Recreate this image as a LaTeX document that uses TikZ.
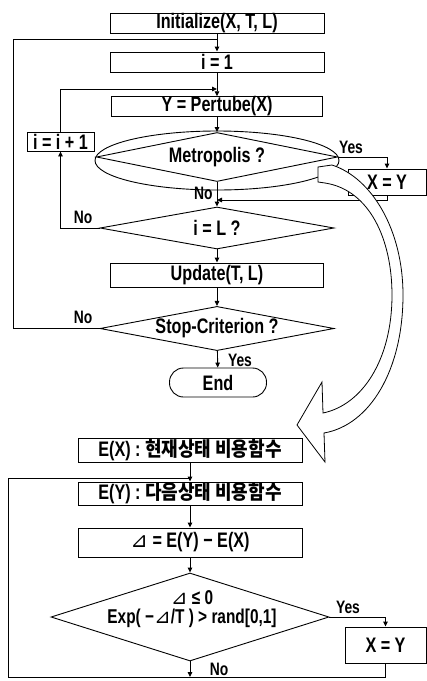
\documentclass[tikz,border=0pt]{standalone}
\usepackage{fontspec}
\setmainfont{Liberation Sans}[FakeStretch=0.77]
\newfontfamily\kr{Noto Sans CJK KR}[FakeStretch=0.9]
\newfontfamily\trifont{DejaVu Sans}
\usetikzlibrary{shapes.geometric,arrows.meta,calc}
\newcommand{\tri}{{\trifont\itshape\mdseries ⊿}}
\tikzset{
  box/.style={draw, rectangle, inner sep=0pt, font=\fontsize{21}{23}\selectfont\bfseries},
  dia/.style={draw, diamond, aspect=5, inner sep=0pt, font=\fontsize{21}{23}\selectfont\bfseries},
  lbl/.style={inner sep=0pt, font=\fontsize{18}{20}\selectfont\bfseries},
  arr/.style={-{Triangle[length=5pt,width=4.5pt]}},
}
\begin{document}
\begin{tikzpicture}[x=1pt,y=-1pt,line width=0.9pt]
\useasboundingbox (0,0) rectangle (427,681);
% upper flowchart
\node[box, minimum width=214pt, minimum height=20pt] (init) at (217,23) {Initialize(X, T, L)};
\node[box, minimum width=214pt, minimum height=20pt] (i1) at (217,62) {i = 1};
\node[box, minimum width=211pt, minimum height=19pt] (pert) at (217,106.5) {Y = Pertube(X)};
\node[draw, ellipse, minimum width=244pt, minimum height=59pt, inner sep=0pt] (ell) at (217,160.5) {};
\node[dia, minimum width=241pt, minimum height=49pt] (metro) at (217,157) {Metropolis ?};
\node[box, minimum width=67pt, minimum height=19pt] (inc) at (60.5,141.5) {i = i + 1};
\node[box, minimum width=78pt, minimum height=26pt] (xy1) at (387,182) {X = Y};
\node[dia, minimum width=234pt, minimum height=42pt] (iL) at (217,228) {i = L ?};
\node[box, minimum width=213pt, minimum height=24pt] (upd) at (217,275) {Update(T, L)};
\node[dia, minimum width=234pt, minimum height=43pt] (stop) at (217,328.5) {Stop-Criterion ?};
\node[box, rounded corners=14pt, minimum width=97pt, minimum height=29pt] (end) at (218,382.5) {End};

\coordinate (lt) at (13,39);
\coordinate (m1) at (217,89);
\coordinate (j2) at (217,200);
\draw[arr] (init) -- (i1);
\draw (stop.west) -| (lt) -- (lt -| init.south);
\draw[arr] (i1) -- (pert);
\draw[arr] (inc.north) |- (m1);
\draw[arr] (pert) -- (metro);
\draw[arr] (metro.south) -- (iL.north);
\node[lbl, anchor=east] (noA) at (213,193) {No};
\draw[arr] (metro.east) -| (xy1.north);
\node[lbl] (yesA) at (351,147) {Yes};
\draw[arr] (xy1.south) |- (j2);
\draw[arr] (iL.west) -| (inc.south);
\node[lbl] (noB) at (83,217) {No};
\draw[arr] (iL) -- (upd);
\draw[arr] (upd) -- (stop);
\draw[arr] (stop) -- (end);
\node[lbl] (noC) at (83,317) {No};
\node[lbl] (yesB) at (240,360) {Yes};

% lower flowchart
\node[box, minimum width=224pt, minimum height=24pt] (ex) at (190,450) {E(X) : {\kr\fontsize{20}{22}\selectfont 현재상태 비용함수}};
\node[box, minimum width=224pt, minimum height=23pt] (ey) at (190,493.5) {E(Y) : {\kr\fontsize{20}{22}\selectfont 다음상태 비용함수}};
\node[box, minimum width=224pt, minimum height=29pt] (dl) at (190,542.5) {\tri{} = E(Y) − E(X)};
\node[draw, diamond, inner sep=0pt, minimum width=278pt, minimum height=88pt] (dec) at (190,617) {};
\node[align=center, inner sep=0pt, font=\fontsize{20}{19}\selectfont\bfseries] (dectxt) at (192,609.5) {\tri{} ≤ 0\\Exp( −\tri/T ) > rand[0,1]};
\node[box, minimum width=81pt, minimum height=36pt] (xy2) at (385.5,645) {X = Y};

\coordinate (lb) at (8,478);
\coordinate (bb) at (8,677);
\draw[arr] (ex) -- (ey);
\draw (xy2.south) |- (bb) -- (lb) -- (lb -| ey.north);
\draw[arr] (ey) -- (dl);
\draw[arr] (dl) -- (dec);
\draw[arr] (dec.east) -| (xy2.north);
\node[lbl] (yesC) at (348,607) {Yes};
\draw[arr] (dec.south) -- (dec.south |- bb);
\node[lbl, anchor=south] (noD) at (219,676) {No};

% big hollow curved arrow
\draw[fill=white, line width=0.8pt, line join=miter]
  (318,167) -- (332,165) .. controls (372,178) and (403,230) .. (403,295)
  .. controls (403,370) and (370,425) .. (324,433)
  -- (325,462) -- (297,425) -- (322,382) -- (323,413)
  .. controls (362,405) and (392,360) .. (392,295)
  .. controls (392,240) and (370,190) .. (325,183)
  -- (318,182) -- cycle;
\end{tikzpicture}
\end{document}
